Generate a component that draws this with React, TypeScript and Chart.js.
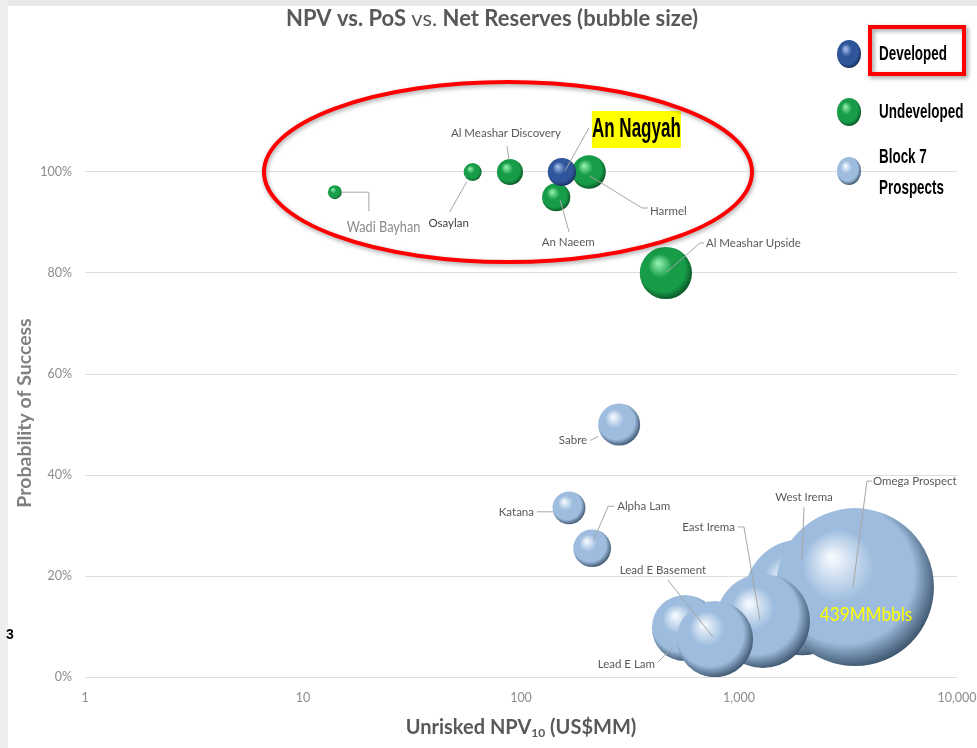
import React, { useEffect, useRef } from "react";
import { Chart, registerables } from "chart.js";

Chart.register(...registerables);

// ---------------- DATA ----------------
const DEVELOPED_NAMES = ["An Nagyah"];
const DEVELOPED_NPV = [154];
const DEVELOPED_POS = [1.0];
const DEVELOPED_RESERVES = [14];

const UNDEVELOPED_NAMES = ["Wadi Bayhan", "Osaylan", "Al Meashar Discovery", "Harmel", "An Naeem", "Al Meashar Upside"];
const UNDEVELOPED_NPV = [14, 60, 89, 205, 145, 462];
const UNDEVELOPED_POS = [0.96, 1.0, 1.0, 1.0, 0.95, 0.8];
const UNDEVELOPED_RESERVES = [3.4, 5.7, 12, 20, 14, 48];

const PROSPECT_NAMES = ["Sabre", "Katana", "Alpha Lam", "West Irema", "Omega Prospect", "East Irema", "Lead E Basement", "Lead E Lam"];
const PROSPECT_NPV = [282, 166, 212, 1945, 3404, 1288, 565, 776];
const PROSPECT_POS = [0.5, 0.335, 0.255, 0.158, 0.178, 0.111, 0.097, 0.075];
const PROSPECT_RESERVES = [31, 19, 25, 237, 439, 155, 77, 102];

const X_TICKS = [1, 10, 100, 1000, 10000];
const X_TICK_LABELS = ["1", "10", "100", "1,000", "10,000"];
const Y_TICKS = [0, 0.2, 0.4, 0.6, 0.8, 1.0];
const Y_TICK_LABELS = ["0%", "20%", "40%", "60%", "80%", "100%"];

const LEGEND_LABELS = [["Developed"], ["Undeveloped"], ["Block 7", "Prospects"]];
const OMEGA_RESERVES_LABEL = "439MMbbls";

// ---------------- LAYOUT / STYLE ----------------
const W = 977;
const H = 748;
const RADIUS_PER_SQRT = 3.77;
const FONT = "Lato, 'Open Sans', sans-serif";
const ARIAL = "'Liberation Sans', Arial, sans-serif";

type Label = {
  dx: number; dy: number; align: CanvasTextAlign; line: number[][];
  size?: number; color?: string; box?: boolean; sx?: number;
};
const LABELS: Record<string, Label> = {
  "Wadi Bayhan": { dx: 12, dy: 35, align: "left", line: [[6, 0], [34, 0], [34, 19]], size: 15.5, sx: 0.82, color: "#8a8a8a" },
  "Osaylan": { dx: -24, dy: 51, align: "center", line: [[-6, 10], [-23, 40]], color: "#404040" },
  "Al Meashar Discovery": { dx: -4, dy: -39, align: "center", line: [[-3, -26], [-1, -12]] },
  "An Nagyah": { dx: 30, dy: -61, align: "left", line: [[27, -44], [3, -1]], box: true },
  "Harmel": { dx: 61, dy: 39, align: "left", line: [[1, 4], [53, 36], [59, 36]] },
  "An Naeem": { dx: 12, dy: 45, align: "center", line: [[4, 3], [13, 35]] },
  "Al Meashar Upside": { dx: 40, dy: -30, align: "left", line: [[1, -1], [34, -30], [38, -30]] },
  "Sabre": { dx: -32, dy: 16, align: "right", line: [[-29, 16], [-21, 12]] },
  "Katana": { dx: -35, dy: 4, align: "right", line: [[-32, 4], [-16, 4]] },
  "Alpha Lam": { dx: 25, dy: -42, align: "left", line: [[1, -7], [16, -42], [22, -42]] },
  "Lead E Basement": { dx: -22, dy: -58, align: "center", line: [[-17, -48], [28, 9]] },
  "Lead E Lam": { dx: -60, dy: 25, align: "right", line: [[-57, 23], [-42, 8]] },
  "East Irema": { dx: -28, dy: -94, align: "right", line: [[-25, -94], [-19, -94], [-3, -1]] },
  "West Irema": { dx: 2, dy: -100, align: "center", line: [[2, -90], [0, -37]] },
  "Omega Prospect": { dx: 18, dy: -106, align: "left", line: [[17, -106], [12, -106], [-2, 0]] },
};

const PALETTES = {
  developed: { hi: "#a7c0ee", base: "#2f569a", dark: "#172f5e" },
  undeveloped: { hi: "#95f2b2", base: "#179c48", dark: "#0b5427" },
  prospects: { hi: "#f6faff", base: "#9dbcde", dark: "#3f566f" },
};

function sphere(ctx: CanvasRenderingContext2D, x: number, y: number, r: number, p: { hi: string; base: string; dark: string }) {
  const g = ctx.createRadialGradient(x - r * 0.3, y - r * 0.38, r * 0.02, x - r * 0.08, y - r * 0.1, r * 1.12);
  g.addColorStop(0, p.hi);
  g.addColorStop(0.4, p.base);
  g.addColorStop(0.78, p.base);
  g.addColorStop(1, p.dark);
  return g;
}

function makePoints(npv: number[], pos: number[], res: number[]) {
  return npv.map((v, i) => ({ x: v, y: pos[i], r: RADIUS_PER_SQRT * Math.sqrt(res[i]) }));
}

function bubbleColor(p: { hi: string; base: string; dark: string }) {
  return (c: any) => {
    const chart = c.chart;
    const raw = c.raw;
    if (!raw || !chart.scales || !chart.scales.x || !chart.scales.y) return p.base;
    const x = chart.scales.x.getPixelForValue(raw.x);
    const y = chart.scales.y.getPixelForValue(raw.y);
    const r = raw.r;
    if (![x, y, r].every((v) => Number.isFinite(v)) || r <= 0) return p.base;
    return sphere(chart.ctx, x, y, r, p);
  };
}

// draw text squeezed horizontally (condensed face emulation)
function fitText(ctx: CanvasRenderingContext2D, text: string, x: number, y: number, font: string, sx: number, align: CanvasTextAlign) {
  ctx.save();
  ctx.font = font;
  ctx.textBaseline = "middle";
  ctx.textAlign = align;
  ctx.translate(x, y);
  ctx.scale(sx, 1);
  ctx.fillText(text, 0, 0);
  ctx.restore();
}

const decorPlugin = {
  id: "decor",
  beforeDraw(chart: any) {
    const ctx = chart.ctx as CanvasRenderingContext2D;
    ctx.save();
    ctx.fillStyle = "#ffffff";
    ctx.fillRect(0, 0, W, H);
    ctx.fillStyle = "#e9e9e9";
    ctx.fillRect(0, 0, W, 6);
    ctx.fillStyle = "#eeeeee";
    ctx.fillRect(0, 0, 8, H);
    ctx.restore();
  },
  afterDatasetsDraw(chart: any) {
    const ctx = chart.ctx as CanvasRenderingContext2D;
    ctx.save();
    chart.data.datasets.forEach((ds: any, di: number) => {
      const meta = chart.getDatasetMeta(di);
      ds.names.forEach((name: string, i: number) => {
        const el = meta.data[i];
        const spec = LABELS[name];
        if (!el || !spec) return;
        const cx = el.x, cy = el.y;
        ctx.strokeStyle = "#a6a6a6";
        ctx.lineWidth = 1;
        ctx.beginPath();
        spec.line.forEach((pt, k) => {
          if (k === 0) ctx.moveTo(cx + pt[0], cy + pt[1]);
          else ctx.lineTo(cx + pt[0], cy + pt[1]);
        });
        ctx.stroke();
        if (spec.box) {
          const bx = cx + spec.dx, by = cy + spec.dy;
          ctx.fillStyle = "#ffff00";
          ctx.fillRect(bx, by, 89, 37);
          ctx.fillStyle = "#000000";
          fitText(ctx, name, bx + 44.5, by + 19, "bold 27px " + ARIAL, 0.63, "center");
        } else {
          ctx.fillStyle = spec.color || "#595959";
          fitText(ctx, name, cx + spec.dx, cy + spec.dy, `${spec.size || 11.5}px ${FONT}`, spec.sx || 1, spec.align);
        }
        if (name === "Omega Prospect") {
          ctx.fillStyle = "#ffff00";
          fitText(ctx, OMEGA_RESERVES_LABEL, cx + 11, cy + 27, "20px " + FONT, 0.86, "center");
        }
      });
    });
    ctx.restore();
  },
  afterDraw(chart: any) {
    const ctx = chart.ctx as CanvasRenderingContext2D;
    const xs = chart.scales.x, ys = chart.scales.y;
    ctx.save();
    // title
    ctx.textBaseline = "middle";
    ctx.fillStyle = "#595959";
    const segs: [string, string][] = [
      ["NPV vs. PoS ", "bold 22px " + FONT],
      ["vs.", "22px " + FONT],
      [" Net Reserves (bubble size)", "bold 22px " + FONT],
    ];
    let total = 0;
    segs.forEach(([t, f]) => { ctx.font = f; total += ctx.measureText(t).width; });
    let tx = 492 - total / 2;
    ctx.textAlign = "left";
    segs.forEach(([t, f]) => { ctx.font = f; ctx.fillText(t, tx, 19); tx += ctx.measureText(t).width; });

    // x axis title with subscript
    const xt: [string, string, number][] = [
      ["Unrisked NPV", "bold 20px " + FONT, 0],
      ["10", "bold 12px " + FONT, 5],
      [" (US$MM)", "bold 20px " + FONT, 0],
    ];
    total = 0;
    xt.forEach(([t, f]) => { ctx.font = f; total += ctx.measureText(t).width; });
    tx = (xs.left + xs.right) / 2 - total / 2;
    xt.forEach(([t, f, off]) => { ctx.font = f; ctx.fillText(t, tx, 728 + off); tx += ctx.measureText(t).width; });

    // y axis title
    ctx.save();
    ctx.translate(25, 413);
    ctx.rotate(-Math.PI / 2);
    ctx.textAlign = "center";
    ctx.fillStyle = "#808080";
    ctx.font = "bold 19.5px " + FONT;
    ctx.fillText("Probability of Success", 0, 0);
    ctx.restore();

    // red ellipse annotation around the developed / near-field group
    const ex = xs.getPixelForValue(100) - 13;
    const ey = ys.getPixelForValue(1.0);
    ctx.save();
    ctx.shadowColor = "rgba(0,0,0,0.35)";
    ctx.shadowBlur = 4;
    ctx.shadowOffsetX = 1;
    ctx.shadowOffsetY = 2;
    ctx.strokeStyle = "#ff0000";
    ctx.lineWidth = 4;
    ctx.beginPath();
    ctx.ellipse(ex, ey, 244, 90, 0, 0, Math.PI * 2);
    ctx.stroke();
    ctx.restore();

    // legend
    const pals = [PALETTES.developed, PALETTES.undeveloped, PALETTES.prospects];
    const ly = [54, 112, 171];
    pals.forEach((p, i) => {
      ctx.save();
      ctx.translate(849, ly[i]);
      ctx.scale(1, 14 / 12);
      ctx.fillStyle = sphere(ctx, 0, 0, 12, p);
      ctx.beginPath();
      ctx.arc(0, 0, 12, 0, Math.PI * 2);
      ctx.fill();
      ctx.restore();
      ctx.fillStyle = "#000000";
      const lines = LEGEND_LABELS[i];
      lines.forEach((t, k) => {
        const yy = lines.length === 1 ? ly[i] : ly[i] - 14 + k * 31;
        fitText(ctx, t, 879, yy, "bold 21px " + ARIAL, 0.64, "left");
      });
    });
    ctx.save();
    ctx.shadowColor = "rgba(0,0,0,0.4)";
    ctx.shadowBlur = 4;
    ctx.shadowOffsetX = 2;
    ctx.shadowOffsetY = 2;
    ctx.strokeStyle = "#ff0000";
    ctx.lineWidth = 4;
    ctx.strokeRect(870, 27, 94, 47);
    ctx.restore();

    // page number fragment
    ctx.fillStyle = "#000000";
    ctx.font = "bold 14px " + ARIAL;
    ctx.textAlign = "left";
    ctx.textBaseline = "alphabetic";
    ctx.fillText("3", 6, 639);
    ctx.restore();
  },
};

export default function App() {
  const ref = useRef<HTMLCanvasElement | null>(null);
  useEffect(() => {
    document.body.style.margin = "0";
    const canvas = ref.current!;
    const chart = new Chart(canvas, {
      type: "bubble",
      data: {
        datasets: [
          {
            label: "Developed",
            names: DEVELOPED_NAMES,
            data: makePoints(DEVELOPED_NPV, DEVELOPED_POS, DEVELOPED_RESERVES),
            backgroundColor: bubbleColor(PALETTES.developed),
            borderWidth: 0,
          } as any,
          {
            label: "Undeveloped",
            names: UNDEVELOPED_NAMES,
            data: makePoints(UNDEVELOPED_NPV, UNDEVELOPED_POS, UNDEVELOPED_RESERVES),
            backgroundColor: bubbleColor(PALETTES.undeveloped),
            borderWidth: 0,
          } as any,
          {
            label: "Block 7 Prospects",
            names: PROSPECT_NAMES,
            data: makePoints(PROSPECT_NPV, PROSPECT_POS, PROSPECT_RESERVES),
            backgroundColor: bubbleColor(PALETTES.prospects),
            borderWidth: 0,
          } as any,
        ],
      },
      options: {
        responsive: false,
        animation: false,
        devicePixelRatio: 1,
        layout: { autoPadding: false, padding: { top: 71, right: 20, left: 0, bottom: 0 } },
        plugins: { legend: { display: false }, tooltip: { enabled: false }, title: { display: false } },
        events: [],
        scales: {
          x: {
            type: "logarithmic",
            min: 1,
            max: 10000,
            afterBuildTicks: (s: any) => { s.ticks = X_TICKS.map((v) => ({ value: v })); },
            afterFit: (s: any) => { s.height = 71; s.paddingLeft = 0; s.paddingRight = 0; },
            ticks: {
              autoSkip: false,
              maxRotation: 0,
              padding: 13,
              color: "#8c8c8c",
              font: { family: FONT, size: 12.5 },
              callback: (v: any) => { const i = X_TICKS.indexOf(Number(v)); return i >= 0 ? X_TICK_LABELS[i] : ""; },
            },
            grid: { display: false, drawTicks: false },
            border: { display: false },
          },
          y: {
            type: "linear",
            min: 0,
            max: 1.2,
            afterBuildTicks: (s: any) => { s.ticks = Y_TICKS.map((v) => ({ value: v })); },
            afterFit: (s: any) => { s.width = 85; s.paddingTop = 0; s.paddingBottom = 0; },
            ticks: {
              padding: 13,
              color: "#8c8c8c",
              font: { family: FONT, size: 12.5 },
              callback: (v: any) => { const i = Y_TICKS.findIndex((t) => Math.abs(t - Number(v)) < 1e-6); return i >= 0 ? Y_TICK_LABELS[i] : ""; },
            },
            grid: { color: "#dedede", drawTicks: false, lineWidth: 1 },
            border: { display: false },
          },
        },
      } as any,
      plugins: [decorPlugin],
    });
    return () => chart.destroy();
  }, []);
  return (
    <div style={{ width: W, height: H }}>
      <canvas ref={ref} width={W} height={H} style={{ width: W, height: H, display: "block" }} />
    </div>
  );
}
